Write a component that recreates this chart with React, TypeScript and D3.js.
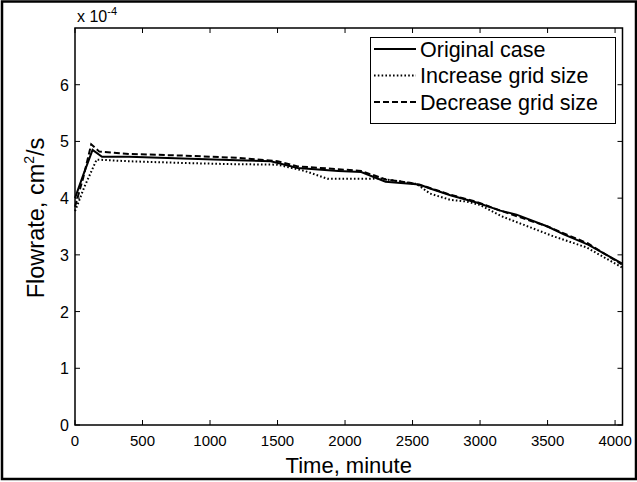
import React from 'react';
import * as d3 from 'd3';

// time (minute) / flowrate (x 1e-4 cm2/s)
const origTime = [0, 60, 130, 200, 400, 800, 1200, 1450, 1650, 1950, 2120, 2300, 2550, 2630, 2780, 2980, 3150, 3270, 3500, 3620, 3800, 4050];
const origFlow = [4.0, 4.4, 4.85, 4.73, 4.73, 4.7, 4.67, 4.65, 4.53, 4.48, 4.46, 4.29, 4.24, 4.17, 4.05, 3.92, 3.78, 3.71, 3.5, 3.36, 3.18, 2.85];

const incTime = [0, 70, 160, 400, 800, 1150, 1500, 1700, 1800, 1870, 2190, 2250, 2530, 2630, 2780, 2900, 3000, 3160, 3540, 3790, 4050];
const incFlow = [3.77, 4.2, 4.68, 4.65, 4.62, 4.6, 4.59, 4.48, 4.4, 4.34, 4.34, 4.35, 4.25, 4.08, 3.97, 3.94, 3.88, 3.68, 3.33, 3.13, 2.78];

const decTime = [0, 60, 120, 180, 400, 800, 1200, 1500, 1650, 1950, 2120, 2300, 2480, 2600, 2780, 2980, 3150, 3500, 3800, 4050];
const decFlow = [3.85, 4.35, 4.95, 4.82, 4.78, 4.75, 4.71, 4.65, 4.56, 4.51, 4.48, 4.33, 4.27, 4.2, 4.06, 3.93, 3.78, 3.5, 3.2, 2.83];

const xTicks = [0, 500, 1000, 1500, 2000, 2500, 3000, 3500, 4000];
const yTicks = [0, 1, 2, 3, 4, 5, 6];
const seriesNames = ['Original case', 'Increase grid size', 'Decrease grid size'];

const font = 'Liberation Sans, Arial, sans-serif';

export default function App() {
  const left = 75, right = 622.5, top = 28, bottom = 425;
  const x = d3.scaleLinear().domain([0, 4055]).range([left, right]);
  const y = d3.scaleLinear().domain([0, 7]).range([bottom, top]);

  const mk = (t: number[], v: number[]) =>
    d3.line<number>().x((d, i) => x(t[i])).y((d) => y(d))(v) || '';

  const series = [
    { d: mk(origTime, origFlow), dash: undefined },
    { d: mk(incTime, incFlow), dash: '1.6 2.2' },
    { d: mk(decTime, decFlow), dash: '6 3' },
  ];

  const tl = 5;
  return (
    <div style={{ position: 'absolute', left: 0, top: 0 }}>
      <svg width={637} height={482} style={{ display: 'block', background: '#fff' }}>
        <rect x={2} y={1.5} width={634} height={477.5} fill="#fff" stroke="#000" strokeWidth={2.5} />

        {/* lines */}
        <g fill="none" stroke="#000">
          {series.map((s, i) => (
            <path key={i} d={s.d} strokeWidth={2} strokeDasharray={s.dash} />
          ))}
        </g>

        {/* axes box */}
        <rect x={left} y={top} width={right - left} height={bottom - top} fill="none" stroke="#000" strokeWidth={1.5} />
        <g stroke="#000" strokeWidth={1}>
          {xTicks.map((t) => (
            <g key={t}>
              <line x1={x(t)} x2={x(t)} y1={bottom} y2={bottom - tl} />
              <line x1={x(t)} x2={x(t)} y1={top} y2={top + tl} />
            </g>
          ))}
          {yTicks.map((t) => (
            <g key={t}>
              <line x1={left} x2={left + tl} y1={y(t)} y2={y(t)} />
              <line x1={right} x2={right - tl} y1={y(t)} y2={y(t)} />
            </g>
          ))}
        </g>
        <g fontFamily={font} fontSize={15} fill="#000">
          {xTicks.map((t) => (
            <text key={t} x={x(t)} y={446} textAnchor="middle">{t}</text>
          ))}
        </g>
        <g fontFamily={font} fontSize={16} fill="#000">
          {yTicks.map((t) => (
            <text key={t} x={69} y={y(t) + 6} textAnchor="end">{t}</text>
          ))}
          <text x={77} y={22}>x 10<tspan fontSize={11} dy={-7}>-4</tspan></text>
        </g>

        {/* axis labels */}
        <text x={(left + right) / 2} y={473} textAnchor="middle" fontFamily={font} fontSize={22}>Time, minute</text>
        <text transform={`translate(44,218) rotate(-90)`} textAnchor="middle" fontFamily={font} fontSize={23.5}>
          Flowrate, cm<tspan fontSize={14} dy={-10}>2</tspan><tspan dy={10}>/s</tspan>
        </text>

        {/* legend */}
        <rect x={370.5} y={37.5} width={245} height={86} fill="#fff" stroke="#000" strokeWidth={1} />
        {seriesNames.map((n, i) => (
          <g key={n}>
            <line x1={374} x2={416} y1={49 + i * 26.5} y2={49 + i * 26.5} stroke="#000" strokeWidth={2} strokeDasharray={series[i].dash} />
            <text x={420} y={56.5 + i * 26.5} fontFamily={font} fontSize={21.5}>{n}</text>
          </g>
        ))}
      </svg>
    </div>
  );
}
